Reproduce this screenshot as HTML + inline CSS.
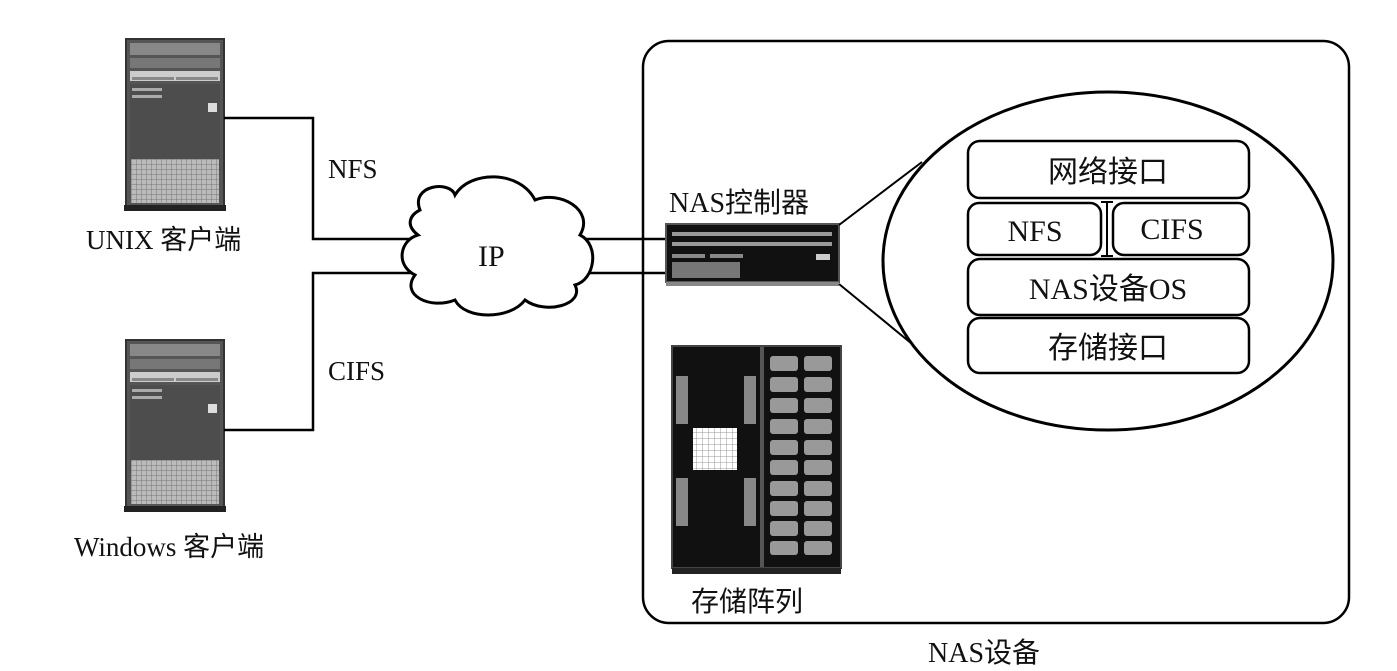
<!DOCTYPE html>
<html><head><meta charset="utf-8"><style>
html,body{margin:0;padding:0;background:#fff}
svg{display:block}
text{font-family:"Liberation Serif","Noto Sans CJK SC",serif;fill:#111}
</style></head><body>
<svg width="1397" height="671" viewBox="0 0 1397 671" xmlns="http://www.w3.org/2000/svg">
<defs>
<pattern id="grid" width="5" height="5" patternUnits="userSpaceOnUse"><rect width="5" height="5" fill="#bbb"/><path d="M0 0H5M0 0V5" stroke="#777" stroke-width="1"/></pattern>
<pattern id="wgrid" width="6" height="6" patternUnits="userSpaceOnUse"><rect width="6" height="6" fill="#fff"/><path d="M0 0H6M0 0V6" stroke="#999" stroke-width="1"/></pattern>
<g id="server">
<rect x="0" y="0" width="98" height="168" fill="#555" stroke="#333" stroke-width="2"/>
<rect x="4" y="4" width="90" height="12" fill="#888"/>
<rect x="4" y="19" width="90" height="10" fill="#777"/>
<rect x="4" y="32" width="90" height="10" fill="#ccc"/>
<rect x="6" y="38" width="42" height="3" fill="#888"/><rect x="50" y="38" width="42" height="3" fill="#888"/>
<rect x="4" y="45" width="90" height="88" fill="#4d4d4d"/>
<rect x="6" y="49" width="30" height="3" fill="#aaa"/><rect x="6" y="56" width="30" height="3" fill="#aaa"/>
<rect x="82" y="64" width="9" height="9" fill="#ddd"/>
<rect x="5" y="120" width="88" height="44" fill="url(#grid)"/>
<rect x="-2" y="166" width="102" height="6" fill="#222"/>
</g>
</defs>

<use href="#server" x="126" y="39"/>
<use href="#server" x="126" y="340"/>
<text x="86" y="249" font-size="27">UNIX 客户端</text>
<text x="74" y="556" font-size="27">Windows 客户端</text>

<g fill="none" stroke="#000" stroke-width="2.5">
<path d="M224 118H313V239H420"/>
<path d="M224 430H313V273H420"/>
<path d="M580 239H668M580 273H668"/>
</g>
<text x="328" y="178" font-size="27">NFS</text>
<text x="328" y="380" font-size="27">CIFS</text>

<path d="M420 210 C410 185,450 180,455 195 C470 170,520 170,535 200 C560 190,595 210,580 235 C600 245,595 280,575 285 C585 305,545 315,525 300 C510 320,465 320,455 300 C430 310,400 295,415 275 C395 265,400 240,418 235 C405 225,410 215,420 210 Z" fill="#fff" stroke="#000" stroke-width="3"/>
<text x="478" y="266" font-size="30">IP</text>

<rect x="643" y="41" width="706" height="582" rx="26" fill="none" stroke="#000" stroke-width="2.5"/>
<text x="928" y="662" font-size="28">NAS设备</text>
<text x="669" y="212" font-size="28">NAS控制器</text>

<rect x="666" y="224" width="173" height="58" fill="#111" stroke="#555" stroke-width="2"/>
<rect x="672" y="232" width="160" height="4" fill="#999"/>
<rect x="672" y="242" width="160" height="4" fill="#999"/>
<rect x="672" y="254" width="33" height="4" fill="#888"/><rect x="710" y="254" width="33" height="4" fill="#888"/>
<rect x="816" y="254" width="14" height="6" fill="#ccc"/>
<rect x="672" y="262" width="68" height="16" fill="#777"/>
<rect x="666" y="282" width="173" height="4" fill="#888"/>

<path d="M839 225L922 162M839 284L917 348" stroke="#000" stroke-width="2" fill="none"/>
<ellipse cx="1108" cy="261" rx="225" ry="169" fill="#fff" stroke="#000" stroke-width="3"/>
<g fill="#fff" stroke="#000" stroke-width="2.5">
<rect x="968" y="141" width="281" height="57" rx="12"/>
<rect x="968" y="203" width="133" height="52" rx="11"/>
<rect x="1113" y="203" width="136" height="52" rx="11"/>
<rect x="968" y="259" width="281" height="56" rx="12"/>
<rect x="968" y="318" width="281" height="55" rx="12"/>
</g>
<path d="M1101 202H1113M1101 256H1113M1107 202V256" stroke="#000" stroke-width="2" fill="none"/>
<g font-size="30" text-anchor="middle">
<text x="1108" y="182">网络接口</text>
<text x="1035" y="241">NFS</text>
<text x="1172" y="239">CIFS</text>
<text x="1108" y="299">NAS设备OS</text>
<text x="1108" y="358">存储接口</text>
</g>

<rect x="672" y="346" width="169" height="222" fill="#111" stroke="#444" stroke-width="2"/>
<rect x="760" y="347" width="4" height="220" fill="#555"/>
<rect x="676" y="376" width="12" height="48" fill="#888"/><rect x="744" y="376" width="12" height="48" fill="#888"/>
<rect x="676" y="478" width="12" height="48" fill="#888"/><rect x="744" y="478" width="12" height="48" fill="#888"/>
<rect x="693" y="428" width="44" height="42" fill="url(#wgrid)"/>
<g fill="#999">
<rect x="770" y="356" width="28" height="15" rx="3"/><rect x="804" y="356" width="28" height="15" rx="3"/>
<rect x="770" y="377" width="28" height="15" rx="3"/><rect x="804" y="377" width="28" height="15" rx="3"/>
<rect x="770" y="398" width="28" height="15" rx="3"/><rect x="804" y="398" width="28" height="15" rx="3"/>
<rect x="770" y="419" width="28" height="15" rx="3"/><rect x="804" y="419" width="28" height="15" rx="3"/>
<rect x="770" y="440" width="28" height="15" rx="3"/><rect x="804" y="440" width="28" height="15" rx="3"/>
<rect x="770" y="460" width="28" height="15" rx="3"/><rect x="804" y="460" width="28" height="15" rx="3"/>
<rect x="770" y="481" width="28" height="15" rx="3"/><rect x="804" y="481" width="28" height="15" rx="3"/>
<rect x="770" y="501" width="28" height="15" rx="3"/><rect x="804" y="501" width="28" height="15" rx="3"/>
<rect x="770" y="521" width="28" height="15" rx="3"/><rect x="804" y="521" width="28" height="15" rx="3"/>
<rect x="770" y="541" width="28" height="14" rx="3"/><rect x="804" y="541" width="28" height="14" rx="3"/>
</g>
<rect x="672" y="568" width="169" height="6" fill="#222"/>
<text x="691" y="611" font-size="28">存储阵列</text>
</svg>
</body></html>
